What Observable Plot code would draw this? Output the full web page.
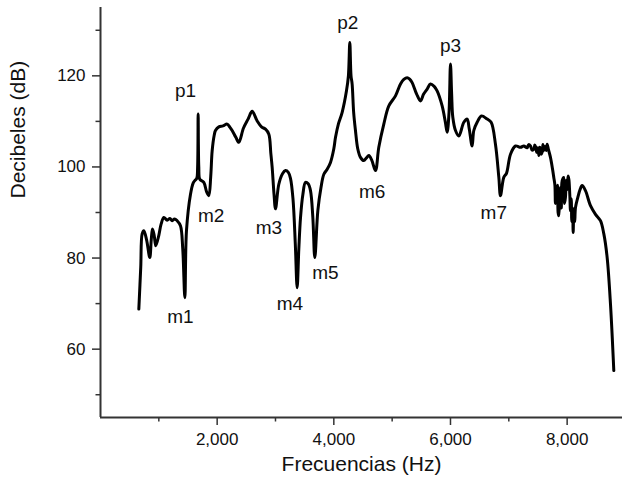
<!DOCTYPE html>
<html>
<head>
<meta charset="utf-8">
<script src="https://cdn.jsdelivr.net/npm/d3@7"></script>
<script src="https://cdn.jsdelivr.net/npm/@observablehq/plot@0.6"></script>
<style>
  html, body { margin: 0; padding: 0; background: #fff; }
  #chart svg { display: block; }
</style>
</head>
<body>
<div id="chart"></div>
<script>
// Frequency (Hz) and level (dB)
const freq = [657, 690, 714, 743, 790, 845, 870, 891, 920, 948, 1000, 1040, 1086, 1143, 1190, 1229, 1270, 1314, 1371, 1410, 1446, 1474, 1543, 1590, 1617, 1650, 1665, 1674, 1685, 1703, 1771, 1820, 1857, 1890, 1914, 1950, 1971, 2029, 2100, 2171, 2220, 2257, 2320, 2371, 2450, 2530, 2600, 2686, 2760, 2829, 2886, 2920, 2943, 2975, 3000, 3057, 3120, 3171, 3220, 3257, 3300, 3340, 3371, 3400, 3429, 3470, 3514, 3560, 3600, 3640, 3674, 3726, 3780, 3829, 3886, 3943, 4000, 4029, 4080, 4143, 4217, 4250, 4274, 4295, 4314, 4340, 4371, 4410, 4457, 4514, 4560, 4600, 4650, 4714, 4771, 4857, 4943, 5057, 5143, 5200, 5257, 5300, 5343, 5420, 5486, 5540, 5600, 5657, 5720, 5771, 5857, 5910, 5943, 5975, 6000, 6020, 6040, 6086, 6143, 6229, 6286, 6320, 6371, 6400, 6457, 6531, 6629, 6697, 6771, 6829, 6857, 6914, 6960, 7029, 7114, 7200, 7257,
  7314, 7340, 7371, 7400, 7429, 7445, 7460, 7480, 7500, 7514, 7530, 7540, 7555, 7571, 7585, 7600, 7620, 7640, 7657, 7680,
  7714, 7750, 7771, 7790, 7800, 7817, 7835, 7845, 7857, 7870, 7886, 7900, 7915, 7943, 7955, 7971, 7985, 8000, 8015, 8029,
  8045, 8057, 8070, 8080, 8095, 8103, 8115, 8130, 8143, 8183, 8220, 8257, 8314, 8400, 8486, 8571, 8629, 8686, 8743, 8800];
const db = [68.8, 78, 85.3, 86.0, 84, 80.1, 84, 86.4, 85, 82.7, 85, 87.5, 88.9, 88.3, 88.7, 88.2, 88.6, 88.2, 87.1, 82, 71.3, 86.0, 94.0, 96.5, 97.0, 97.5, 100, 111.6, 100, 97.3, 96.6, 94.5, 93.7, 98, 103.5, 107, 108, 108.8, 109, 109.4, 108.7, 108, 106.5, 105.4, 108.5, 110.5, 112.2, 110.1, 108.8, 108.3, 107.2, 103, 99.9, 94, 90.8, 96.2, 98.5, 99.2, 98.8, 97.5, 93, 83, 73.5, 82, 88.9, 94, 96.6, 96.3, 94.8, 89, 80.1, 90.4, 95.5, 98.4, 99.5, 101, 104, 106.5, 109.5, 112, 116.7, 120, 127.3, 120, 118.2, 112, 108, 104, 102.1, 101.4, 102, 102.5, 101.5, 99.2, 104.3, 109.4, 113.4, 115.6, 118.2, 119.2, 119.6, 119.3, 118.5, 116, 114.5, 116, 117.1, 118.2, 117.7, 116.7, 113.4, 110, 107.6, 112, 122.6, 116, 110.9, 108, 106.8, 109.8, 110.5, 108.5, 104.6, 108, 109.8, 111.2, 110.5, 109.8, 105, 97.7, 93.7, 97.7, 98.6, 102.8, 104.6, 104.3, 104.6,
  104.2, 104.9, 104.6, 103.7, 103.9, 104.8, 104.4, 103.2, 104.2, 102.5, 104.3, 104.0, 102.8, 103.2, 104.9, 103.6, 104.5, 103.6, 105.0, 103.8,
  102.1, 99.5, 97.7, 96, 92, 94.1, 96, 90, 89.3, 93, 95.5, 91, 97, 97.7, 92, 93.3, 97, 95, 98, 97.3,
  94, 90.4, 93, 88, 91, 85.6, 90, 88, 91.1, 93.3, 95, 95.9, 94.8, 91.5, 89.6, 88.2, 85.3, 80.1, 69.9, 55.3];

// Annotation labels and their positions (data units)
const labelText = ["p1", "m1", "m2", "m3", "m4", "m5", "p2", "m6", "p3", "m7"];
const labelFreq = [1457, 1371, 1897, 2886, 3246, 3857, 4240, 4657, 6000, 6743];
const labelDb = [116.7, 67.1, 89.3, 86.7, 69.9, 76.8, 131.7, 94.6, 126.6, 90];

const xMajor = [2000, 4000, 6000, 8000];
const xMinor = [1000, 3000, 5000, 7000];
const yMajor = [60, 80, 100, 120];
const yMinor = [50, 70, 90, 110, 130];

const curve = freq.map((f, i) => ({f, v: db[i]}));
const labels = labelText.map((t, i) => ({t, f: labelFreq[i], v: labelDb[i]}));

const font = "'Liberation Sans', Arial, Helvetica, sans-serif";
const axisColor = "#333";

const chart = Plot.plot({
  width: 622,
  height: 483,
  marginLeft: 100,
  marginRight: 0,
  marginTop: 7,
  marginBottom: 66,
  style: {fontFamily: font, background: "#fff", color: "#111"},
  x: {domain: [0, 8949]},
  y: {domain: [45, 135]},
  marks: [
    Plot.axisX({ticks: xMajor, tickFormat: d3.format(","), tickSize: 8, tickPadding: 7, fontSize: 17, stroke: axisColor, strokeWidth: 1.5, label: null}),
    Plot.axisX({ticks: xMinor, tickSize: 4.5, text: null, stroke: axisColor, strokeWidth: 1.5, label: null}),
    Plot.axisY({ticks: yMajor, tickSize: 8, tickPadding: 7, fontSize: 17, stroke: axisColor, strokeWidth: 1.5, label: null}),
    Plot.axisY({ticks: yMinor, tickSize: 4.5, text: null, stroke: axisColor, strokeWidth: 1.5, label: null}),
    Plot.ruleY([45], {stroke: axisColor, strokeWidth: 2}),
    Plot.ruleX([0], {stroke: axisColor, strokeWidth: 2}),
    Plot.line(curve, {x: "f", y: "v", curve: "catmull-rom", stroke: "#000", strokeWidth: 3, strokeLinejoin: "round", strokeLinecap: "round"}),
    Plot.text(labels, {x: "f", y: "v", text: "t", fontSize: 19, fill: "#111"}),
    Plot.text(["Frecuencias (Hz)"], {frameAnchor: "bottom", dy: 53.5, fontSize: 21, fill: "#111"}),
    Plot.text(["Decibeles (dB)"], {frameAnchor: "left", dx: -82.5, dy: -14, rotate: -90, fontSize: 21, fill: "#111"})
  ]
});
document.getElementById("chart").appendChild(chart);
</script>
</body>
</html>
